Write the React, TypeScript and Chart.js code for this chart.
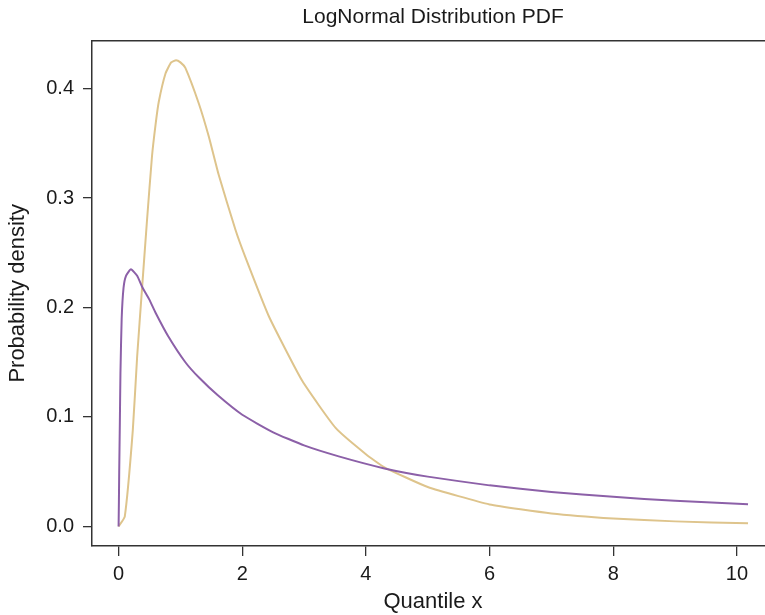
import React, { useEffect, useRef } from "react";
import { Chart, registerables } from "chart.js";

Chart.register(...registerables);

// Purple curve (heavy right tail)
const purpleX = [0, 0.005, 0.01, 0.02, 0.03, 0.05, 0.08, 0.12, 0.2, 0.3, 0.38, 0.5, 0.6, 0.8, 1.08, 1.3, 1.6, 2.0, 2.5, 3.0, 3.56, 4.3, 5, 6, 7, 8, 9, 10.18];
const purpleY = [0, 0.022, 0.05, 0.093, 0.14, 0.19, 0.218, 0.229, 0.235, 0.229, 0.219, 0.207, 0.195, 0.174, 0.15, 0.136, 0.12, 0.102, 0.086, 0.074, 0.064, 0.053, 0.0455, 0.0375, 0.0315, 0.027, 0.0234, 0.0203];

// Tan curve (peaked)
const tanX = [0, 0.1, 0.23, 0.3, 0.38, 0.46, 0.54, 0.6, 0.65, 0.76, 0.85, 0.93, 1.0, 1.08, 1.3, 1.46, 1.62, 1.89, 2.05, 2.43, 2.97, 3.51, 4.0, 4.3, 5, 6, 7, 8, 9, 10.18];
const tanY = [0, 0.009, 0.088, 0.155, 0.218, 0.28, 0.338, 0.368, 0.388, 0.414, 0.424, 0.426, 0.424, 0.419, 0.386, 0.356, 0.321, 0.271, 0.246, 0.192, 0.133, 0.09, 0.066, 0.054, 0.036, 0.0201, 0.0119, 0.0073, 0.0046, 0.0028];

const xTicks = [0, 2, 4, 6, 8, 10];
const yTicks = [0, 0.1, 0.2, 0.3, 0.4];

const titleText = "LogNormal Distribution PDF";
const xTitle = "Quantile x";
const yTitle = "Probability density";

const PURPLE = "rgb(140, 96, 168)";
const TAN = "rgb(222, 196, 140)";
const INK = "#1a1a1a";
const FONT = "'Liberation Sans', Arial, Helvetica, sans-serif";

const topBorder = {
  id: "topBorder",
  afterDraw(chart: any) {
    const { ctx, chartArea } = chart;
    ctx.save();
    ctx.strokeStyle = "#333333";
    ctx.lineWidth = 1.5;
    ctx.beginPath();
    ctx.moveTo(chartArea.left, chartArea.top);
    ctx.lineTo(chartArea.right + 20, chartArea.top);
    ctx.stroke();
    ctx.restore();
  },
};

export default function App() {
  const ref = useRef<HTMLCanvasElement | null>(null);

  useEffect(() => {
    if (!ref.current) return;
    Chart.defaults.font.family = FONT;
    const chart = new Chart(ref.current, {
      type: "line",
      data: {
        datasets: [
          {
            label: "purple",
            data: purpleX.map((x, i) => ({ x, y: purpleY[i] })),
            borderColor: PURPLE,
            borderWidth: 2,
            pointRadius: 0,
            tension: 0.15,
            fill: false,
          },
          {
            label: "tan",
            data: tanX.map((x, i) => ({ x, y: tanY[i] })),
            borderColor: TAN,
            borderWidth: 2,
            pointRadius: 0,
            tension: 0.15,
            fill: false,
          },
        ],
      },
      plugins: [topBorder],
      options: {
        responsive: false,
        animation: false,
        devicePixelRatio: 1,
        layout: { padding: { left: 0, top: 0, right: 16, bottom: 0 } },
        plugins: {
          legend: { display: false },
          tooltip: { enabled: false },
          title: {
            display: true,
            text: titleText,
            fullSize: false,
            color: INK,
            font: { size: 21, weight: "normal", family: FONT },
            padding: { top: 4.4, bottom: 11.1 },
          },
        },
        scales: {
          x: {
            type: "linear",
            min: -0.43,
            max: 10.6,
            afterBuildTicks: (scale: any) => {
              scale.ticks = xTicks.map((v) => ({ value: v }));
            },
            afterFit: (scale: any) => {
              scale.height = 69;
            },
            ticks: {
              color: INK,
              font: { size: 20, family: FONT },
              padding: 6,
              maxRotation: 0,
              callback: (v: any) => String(v),
            },
            grid: {
              display: true,
              drawOnChartArea: false,
              drawTicks: true,
              tickLength: 10,
              color: "#333333",
              lineWidth: 1.3,
            },
            border: { display: true, color: "#333333", width: 1.5 },
            title: {
              display: true,
              text: xTitle,
              color: INK,
              font: { size: 22, family: FONT },
              padding: { top: 0, bottom: 0 },
            },
          },
          y: {
            type: "linear",
            min: -0.0179,
            max: 0.4438,
            afterBuildTicks: (scale: any) => {
              scale.ticks = yTicks.map((v) => ({ value: v }));
            },
            afterFit: (scale: any) => {
              scale.width = 92;
            },
            ticks: {
              color: INK,
              font: { size: 20, family: FONT },
              padding: 9,
              callback: (v: any) => Number(v).toFixed(1),
            },
            grid: {
              display: true,
              drawOnChartArea: false,
              drawTicks: true,
              tickLength: 9,
              color: "#333333",
              lineWidth: 1.3,
            },
            border: { display: true, color: "#333333", width: 1.5 },
            title: {
              display: true,
              text: yTitle,
              color: INK,
              font: { size: 22, family: FONT },
              padding: { top: 5, bottom: 0 },
            },
          },
        },
      },
    } as any);
    return () => chart.destroy();
  }, []);

  return (
    <div
      style={{
        position: "fixed",
        left: 0,
        top: 0,
        width: 765,
        height: 615,
        overflow: "hidden",
        background: "#ffffff",
      }}
    >
      <canvas ref={ref} width={790} height={615} style={{ width: 790, height: 615, display: "block" }} />
    </div>
  );
}
